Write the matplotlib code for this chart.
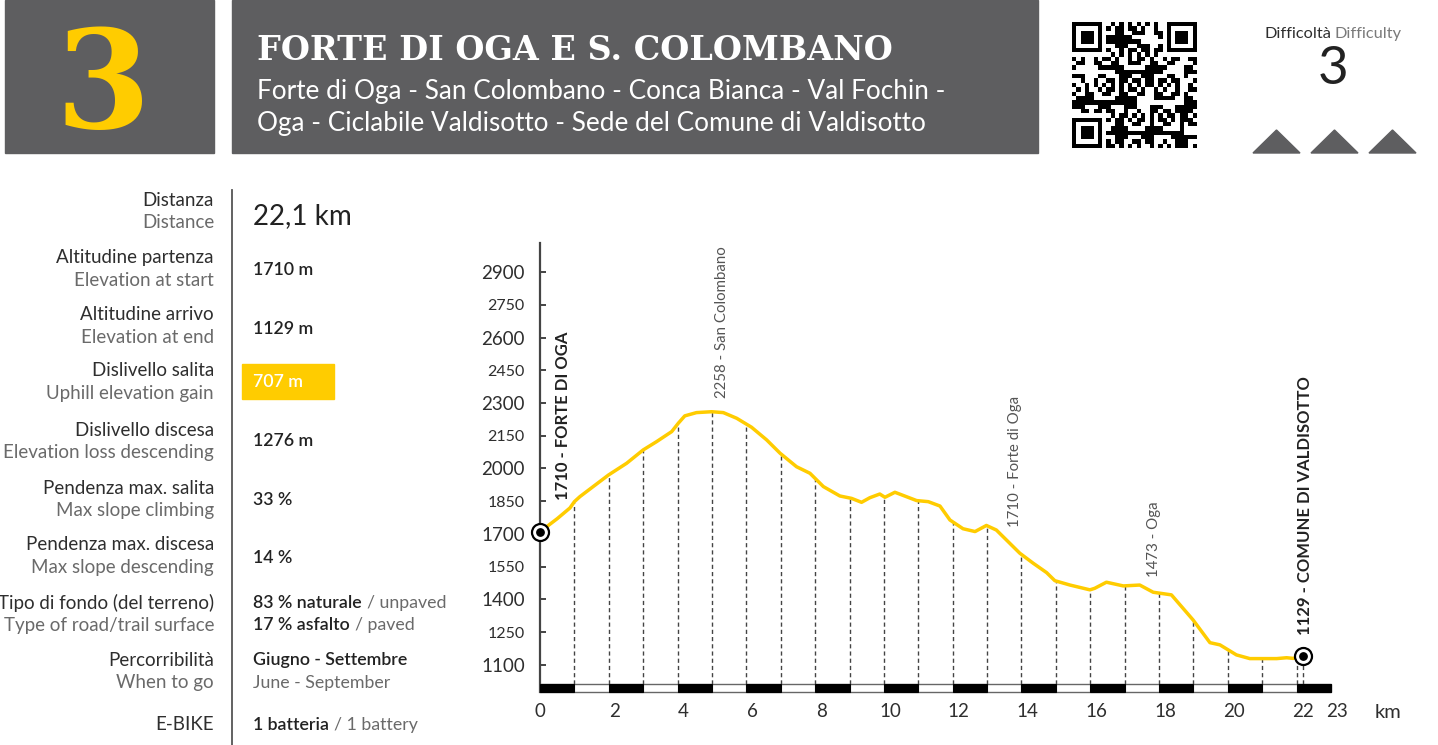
import numpy as np
import matplotlib.pyplot as plt
from matplotlib.patches import Rectangle, Polygon
import matplotlib.transforms as mtransforms

plt.rcParams['font.family'] = ['Lato', 'DejaVu Sans']

# ---------------------------------------------------------
# DATA
# ---------------------------------------------------------
km = [0, 0.5, 0.87, 1.0, 1.16, 1.99, 2.52, 3.0, 3.39, 3.83, 4.02, 4.21, 4.55,
      4.99, 5.33, 5.72, 6.15, 6.59, 6.98, 7.46, 7.85, 8.24, 8.72, 9.06, 9.35,
      9.59, 9.88, 10.03, 10.32, 10.95, 11.29, 11.63, 11.92, 12.3, 12.65, 12.98,
      13.27, 13.95, 14.34, 14.73, 14.97, 15.41, 15.99, 16.13, 16.47, 16.96,
      17.44, 17.83, 18.36, 18.99, 19.48, 19.77, 20.25, 20.64, 21.42, 21.71,
      21.9, 22.2]
elev = [1710, 1770, 1819, 1848, 1871, 1970, 2024, 2085, 2123, 2169, 2207, 2241,
        2256, 2260, 2256, 2230, 2189, 2131, 2070, 2008, 1978, 1917, 1874, 1863,
        1845, 1866, 1883, 1868, 1891, 1853, 1848, 1828, 1764, 1724, 1711, 1739,
        1718, 1612, 1566, 1523, 1486, 1466, 1444, 1451, 1479, 1462, 1466, 1433,
        1421, 1306, 1202, 1192, 1146, 1129, 1129, 1133, 1130, 1140]

x_ticks = [0, 2, 4, 6, 8, 10, 12, 14, 16, 18, 20, 22, 23]
y_ticks = [1100, 1250, 1400, 1550, 1700, 1850, 2000, 2150, 2300, 2450, 2600, 2750, 2900]

# waypoint labels: km, elevation of label base, text, bold
wp_km = [0.67, 5.29, 13.81, 17.85, 22.24]
wp_base = [1856, 2323, 1732, 1503, 1237]
wp_text = ["1710 - FORTE DI OGA", "2258 - San Colombano", "1710 - Forte di Oga",
           "1473 - Oga", "1129 - COMUNE DI VALDISOTTO"]
wp_bold = [True, False, False, False, True]

route_no = "3"
title = "FORTE DI OGA E S. COLOMBANO"
subtitle = ["Forte di Oga - San Colombano - Conca Bianca - Val Fochin -",
            "Oga - Ciclabile Valdisotto - Sede del Comune di Valdisotto"]
difficulty = "3"

info_it = ["Distanza", "Altitudine partenza", "Altitudine arrivo", "Dislivello salita",
           "Dislivello discesa", "Pendenza max. salita", "Pendenza max. discesa",
           "Tipo di fondo (del terreno)", "Percorribilità", "E-BIKE"]
info_en = ["Distance", "Elevation at start", "Elevation at end", "Uphill elevation gain",
           "Elevation loss descending", "Max slope climbing", "Max slope descending",
           "Type of road/trail surface", "When to go", ""]
info_val = ["22,1 km", "1710 m", "1129 m", "707 m", "1276 m", "33 %", "14 %",
            "", "Giugno - Settembre", "1 batteria"]

# ---------------------------------------------------------
# FIGURE
# ---------------------------------------------------------
W, H = 1438, 745
fig = plt.figure(figsize=(W / 100, H / 100), dpi=100)
fig.patch.set_facecolor("white")

# overlay in pixel coords
ov = fig.add_axes([0, 0, 1, 1], zorder=0)
ov.axis("off")

GRAY = "#5e5e60"
YEL = "#ffcc00"
DARK = "#2e2e2e"
LIGHT = "#6a6a6a"

# header boxes
ov.add_patch(Rectangle((5, 0), 209, 153, color=GRAY))
ov.add_patch(Rectangle((232, 0), 806, 153, color=GRAY))
ov.text(103, 90, route_no, color=YEL, fontsize=98, fontweight="bold",
        family="DejaVu Serif", ha="center", va="center")
ov.text(257, 50, title, color="white", fontsize=24, fontweight="bold",
        family="DejaVu Serif", ha="left", va="center")
ov.text(257, 91, subtitle[0], color="white", fontsize=18.8,
        ha="left", va="center")
ov.text(257, 124, subtitle[1], color="white", fontsize=18.8,
        ha="left", va="center")

# QR-like code (decorative, deterministic)
n = 29
qr = np.zeros((n, n))
for i in range(n):
    for j in range(n):
        h = ((i + 3) * 73856093) ^ ((j + 7) * 19349663) ^ ((i * j + 11) * 83492791)
        qr[i, j] = (h >> 5) & 1
def finder(r, c):
    qr[max(r - 1, 0):r + 8, max(c - 1, 0):c + 8] = 0
    qr[r:r + 7, c:c + 7] = 1
    qr[r + 1:r + 6, c + 1:c + 6] = 0
    qr[r + 2:r + 5, c + 2:c + 5] = 1
finder(0, 0)
finder(0, n - 7)
finder(n - 7, 0)
ov.imshow(qr, cmap="gray_r", extent=(1072, 1197, 148, 22), interpolation="nearest",
          vmin=0, vmax=1)
ov.set_xlim(0, W)
ov.set_ylim(H, 0)
ov.set_aspect("auto")

# difficulty
ov.text(1331, 34, "Difficoltà", color=DARK, fontsize=11.8, ha="right", va="center")
ov.text(1335, 34, "Difficulty", color="#7a7a7a", fontsize=11.8, ha="left", va="center")
ov.text(1333, 70, difficulty, color="#222222", fontsize=38, fontweight="normal",
        ha="center", va="center")
for x0 in [1253, 1311, 1369]:
    ov.add_patch(Polygon([(x0, 153), (x0 + 47, 153), (x0 + 23.5, 130)], color=GRAY))

# left info panel
ov.plot([232, 232], [190, 745], color="#555555", lw=1.3)
row_y = [200, 258, 315, 371, 430, 488, 545, 603, 660, 725]
lab_fs = 13.5
for k in range(len(info_it)):
    y = row_y[k]
    ov.text(214, y, info_it[k], color=DARK, fontsize=lab_fs, ha="right", va="center")
    if info_en[k]:
        ov.text(214, y + 22.5, info_en[k], color=LIGHT, fontsize=lab_fs, ha="right",
                va="center")

val_fs = 12.8
ov.text(253, 216, info_val[0], color="#222222", fontsize=20, ha="left", va="center")
ov.text(253, 270, info_val[1], color="#222222", fontsize=val_fs, ha="left", va="center",
        fontweight="semibold")
ov.text(253, 329, info_val[2], color="#222222", fontsize=val_fs, ha="left", va="center",
        fontweight="semibold")
ov.add_patch(Rectangle((242, 364), 92, 35, color=YEL))
ov.text(253, 382, info_val[3], color="white", fontsize=val_fs, ha="left", va="center",
        fontweight="semibold")
ov.text(253, 441, info_val[4], color="#222222", fontsize=val_fs, ha="left", va="center",
        fontweight="semibold")
ov.text(253, 500, info_val[5], color="#222222", fontsize=val_fs, ha="left", va="center",
        fontweight="semibold")
ov.text(253, 558, info_val[6], color="#222222", fontsize=val_fs, ha="left", va="center",
        fontweight="semibold")

def two_part(x, y, a, b, wa="semibold"):
    t = ov.text(x, y, a, color="#222222", fontsize=val_fs, ha="left", va="center",
                fontweight=wa)
    fig.canvas.draw()
    bb = t.get_window_extent()
    inv = ov.transData.inverted()
    xe = inv.transform((bb.x1, bb.y0))[0]
    ov.text(xe + 5, y, b, color=LIGHT, fontsize=val_fs, ha="left", va="center")

two_part(253, 603, "83 % naturale", "/ unpaved")
two_part(253, 625, "17 % asfalto", "/ paved")
ov.text(253, 660, info_val[8], color="#222222", fontsize=val_fs, ha="left", va="center",
        fontweight="semibold")
ov.text(253, 683, "June - September", color=LIGHT, fontsize=val_fs, ha="left",
        va="center")
two_part(253, 725, info_val[9], "/ 1 battery")

# ---------------------------------------------------------
# ELEVATION PROFILE
# ---------------------------------------------------------
ax_l, ax_r, ax_t, ax_b = 540, 1331, 243, 692
ax = fig.add_axes([ax_l / W, 1 - ax_b / H, (ax_r - ax_l) / W, (ax_b - ax_t) / H],
                  zorder=1)
ax.set_facecolor("none")
ax.set_xlim(0, 23)
ax.set_ylim(976, 3033)
for s in ["top", "right", "bottom"]:
    ax.spines[s].set_visible(False)
ax.spines["left"].set_color("#444444")
ax.spines["left"].set_linewidth(1.6)

bar_top = 1013
trans = mtransforms.blended_transform_factory(ax.transData, ax.transAxes)
bar_h = (ax_b - 684) / (ax_b - ax_t)
ax.add_patch(Rectangle((0, 0), 23, bar_h, transform=trans, facecolor="white",
                       edgecolor="#666666", lw=1.0, zorder=3, clip_on=False))
for s in range(0, 23, 2):
    ax.add_patch(Rectangle((s, 0), 1, bar_h, transform=trans, facecolor="black",
                           edgecolor="black", lw=0.8, zorder=4, clip_on=False))

# dashed drop lines
drop_x = list(range(1, 23)) + [km[-1]]
drop_top = np.interp(drop_x, km, elev)
ax.vlines(drop_x, bar_top, drop_top, colors="#444444", linestyles=(0, (3, 2.2)),
          lw=1.0, zorder=2)

ax.plot(km, elev, color=YEL, lw=2.5, zorder=5, solid_capstyle="round",
        solid_joinstyle="round")

for xx, yy in [(km[0], elev[0]), (km[-1], elev[-1])]:
    ax.scatter([xx], [yy], s=150, facecolor="white", edgecolor="black", lw=1.6,
               zorder=6, clip_on=False)
    ax.scatter([xx], [yy], s=28, color="black", zorder=7, clip_on=False)

for k in range(len(wp_text)):
    if wp_bold[k]:
        ax.text(wp_km[k], wp_base[k], wp_text[k], rotation=90, ha="center", va="bottom",
                fontsize=12, fontweight="bold", color="#222222")
    else:
        ax.text(wp_km[k], wp_base[k], wp_text[k], rotation=90, ha="center", va="bottom",
                fontsize=10.8, color="#555555")

ax.set_xticks(x_ticks)
ax.set_xticklabels([str(v) for v in x_ticks])
ax.tick_params(axis="x", length=0, pad=8, labelsize=13.5, labelcolor=DARK)
shift = mtransforms.ScaledTranslation(6 / 100, 0, fig.dpi_scale_trans)
for lab, v in zip(ax.get_xticklabels(), x_ticks):
    if v > 0:
        lab.set_transform(lab.get_transform() + shift)
ax.set_yticks(y_ticks)
ax.set_yticklabels([str(v) for v in y_ticks])
ax.tick_params(axis="y", direction="in", length=4, width=1.4, color="#444444",
               pad=11, labelcolor=DARK)
for lab, v in zip(ax.get_yticklabels(), y_ticks):
    lab.set_fontsize(13.5 if (v - 1100) % 300 == 0 else 11.5)

ov.text(1388, 712, "km", color=DARK, fontsize=14.5, ha="center", va="center")

fig.savefig("out.png", dpi=100)
